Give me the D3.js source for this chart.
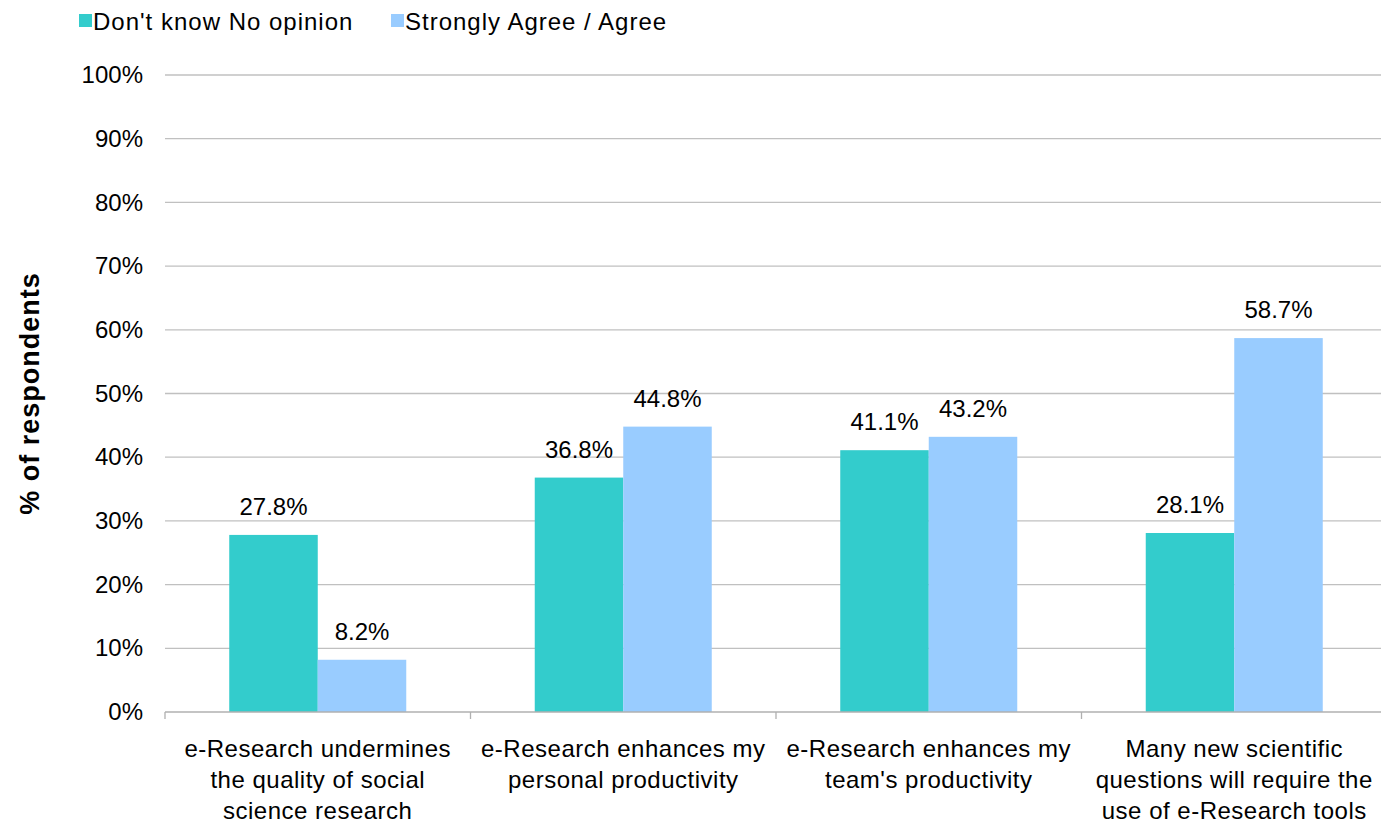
<!DOCTYPE html>
<html>
<head>
<meta charset="utf-8">
<script src="https://cdn.jsdelivr.net/npm/d3@7"></script>
<style>
  body { margin: 0; background: #fff; }
  text { font-family: "Liberation Sans", Arial, sans-serif; fill: #000; }
</style>
</head>
<body>
<div id="chart"></div>
<script>
// Categories (one entry per line of the wrapped label)
const categories = [
    ['e-Research undermines', 'the quality of social', 'science research'],
    ['e-Research enhances my', 'personal productivity'],
    ['e-Research enhances my', "team's productivity"],
    ['Many new scientific', 'questions will require the', 'use of e-Research tools']
];
const seriesNames = ["Don't know No opinion", 'Strongly Agree / Agree'];
const dontKnow = [27.8, 36.8, 41.1, 28.1];
const agree = [8.2, 44.8, 43.2, 58.7];
const yTicks = [0, 10, 20, 30, 40, 50, 60, 70, 80, 90, 100];
const colors = ['#33CCCC', '#99CCFF'];

/*
 *  Draw chart
 */
const width = 1381;
const height = 823;
const margin = { left: 165, top: 75, right: -6, bottom: 111 };

const svg = d3.select('#chart').append('svg')
    .attr('width', width)
    .attr('height', height);

const catIds = d3.range(categories.length);

const x0 = d3.scaleBand()
    .domain(catIds)
    .range([margin.left, width - margin.right]);

const x1 = d3.scaleBand()
    .domain(d3.range(seriesNames.length))
    .range([0, x0.bandwidth()])
    .paddingOuter(0.726);

const y = d3.scaleLinear()
    .domain([0, 100])
    .range([height - margin.bottom, margin.top]);

// Gridlines
svg.append('g')
    .selectAll('line')
    .data(yTicks.filter(d => d > 0))
    .enter()
    .append('line')
    .attr('x1', margin.left)
    .attr('x2', width)
    .attr('y1', d => y(d))
    .attr('y2', d => y(d))
    .attr('stroke', '#c0c0c0')
    .attr('stroke-width', 1.3);

// Y axis labels
const yAxis = d3.axisLeft(y)
    .tickValues(yTicks)
    .tickFormat(d => d + '%')
    .tickSize(0)
    .tickPadding(22);

const yAxisGroup = svg.append('g')
    .attr('transform', `translate(${margin.left},0)`)
    .call(yAxis);
yAxisGroup.select('.domain').remove();
yAxisGroup.selectAll('text')
    .style('font-size', '24px')
    .attr('fill', '#000');

// Bars
const data = catIds.map(i => [dontKnow[i], agree[i]]);

const groups = svg.append('g')
    .selectAll('g')
    .data(data)
    .enter()
    .append('g')
    .attr('transform', (d, i) => `translate(${x0(i)},0)`);

groups.selectAll('rect')
    .data(d => d.map((v, s) => ({ v, s })))
    .enter()
    .append('rect')
    .attr('x', d => x1(d.s))
    .attr('width', x1.bandwidth())
    .attr('y', d => y(d.v))
    .attr('height', d => y(0) - y(d.v))
    .attr('fill', d => colors[d.s]);

// Value labels
groups.selectAll('text.value')
    .data(d => d.map((v, s) => ({ v, s })))
    .enter()
    .append('text')
    .attr('class', 'value')
    .attr('x', d => x1(d.s) + x1.bandwidth() / 2)
    .attr('y', d => y(d.v) - 20)
    .attr('text-anchor', 'middle')
    .style('font-size', '24px')
    .text(d => d.v.toFixed(1) + '%');

// X axis line with boundary ticks
svg.append('line')
    .attr('x1', margin.left)
    .attr('x2', width)
    .attr('y1', y(0))
    .attr('y2', y(0))
    .attr('stroke', '#b0b0b0')
    .attr('stroke-width', 1.3);

svg.append('g')
    .selectAll('line')
    .data(catIds)
    .enter()
    .append('line')
    .attr('x1', d => x0(d))
    .attr('x2', d => x0(d))
    .attr('y1', y(0))
    .attr('y2', y(0) + 7)
    .attr('stroke', '#b0b0b0')
    .attr('stroke-width', 1.3);

// Category labels
const catLabels = svg.append('g')
    .selectAll('text')
    .data(categories)
    .enter()
    .append('text')
    .attr('text-anchor', 'middle')
    .style('font-size', '24px')
    .style('letter-spacing', '0.5px')
    .attr('x', (d, i) => x0(i) + x0.bandwidth() / 2);

catLabels.selectAll('tspan')
    .data(d => d)
    .enter()
    .append('tspan')
    .attr('x', function () { return d3.select(this.parentNode).attr('x'); })
    .attr('y', (d, i) => 757 + i * 31)
    .text(d => d);

// Y axis title
svg.append('text')
    .attr('transform', `translate(39,${(y(0) + y(100)) / 2}) rotate(-90)`)
    .attr('text-anchor', 'middle')
    .style('font-size', '27px')
    .style('font-weight', 'bold')
    .style('letter-spacing', '1px')
    .text('% of respondents');

// Legend
const legend = svg.append('g');
const legendX = [79, 391];
seriesNames.forEach((name, i) => {
    legend.append('rect')
        .attr('x', legendX[i])
        .attr('y', 14)
        .attr('width', 13)
        .attr('height', 13)
        .attr('fill', colors[i]);
    legend.append('text')
        .attr('x', legendX[i] + 14)
        .attr('y', 30)
        .style('font-size', '24px')
        .style('letter-spacing', '1px')
        .text(name);
});
</script>
</body>
</html>
